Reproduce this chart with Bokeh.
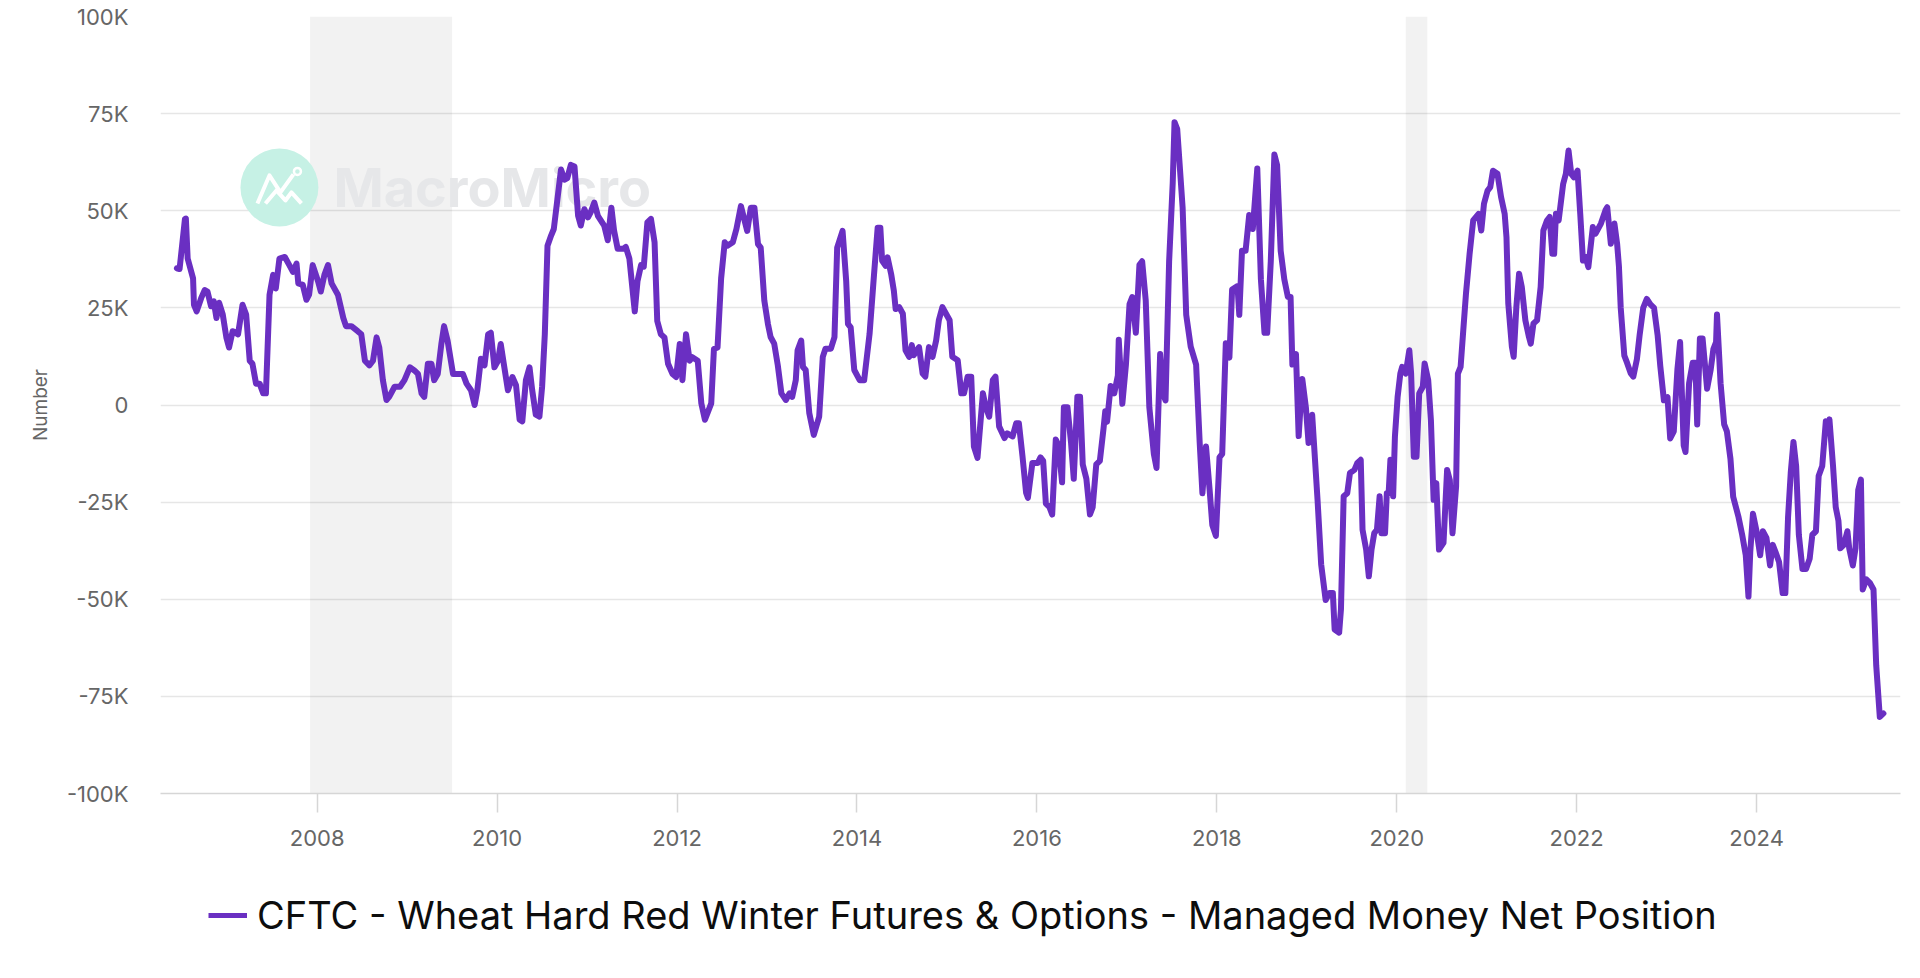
from bokeh.plotting import figure
from bokeh.layouts import column
from bokeh.models import (ColumnDataSource, Range1d, FixedTicker, BoxAnnotation,
                          Legend, LegendItem)
from bokeh.core.properties import value
from bokeh.embed import file_html
from bokeh.resources import INLINE

# ---------------- data (decimal year, thousands of contracts) ----------------
dates = [
 2006.44,2006.47,2006.53,2006.54,2006.56,2006.62,2006.63,2006.66,2006.71,2006.75,2006.78,2006.82,2006.85,2006.88,2006.91,2006.95,2006.99,
 2007.02,2007.06,2007.12,2007.17,2007.21,2007.25,2007.28,2007.32,2007.36,2007.40,2007.43,2007.47,2007.51,2007.54,2007.58,2007.64,2007.69,
 2007.73,2007.77,2007.79,2007.84,2007.88,2007.91,2007.95,2008.01,2008.04,2008.08,2008.12,2008.16,2008.23,2008.29,2008.32,2008.38,2008.45,
 2008.49,2008.53,2008.58,2008.62,2008.66,2008.69,2008.73,2008.77,2008.80,2008.86,2008.92,2008.97,2009.03,2009.08,2009.12,2009.16,2009.19,
 2009.23,2009.27,2009.30,2009.34,2009.38,2009.41,2009.45,2009.51,2009.56,2009.62,2009.66,2009.71,2009.75,2009.78,2009.82,2009.86,2009.90,
 2009.93,2009.97,2010.01,2010.04,2010.08,2010.12,2010.17,2010.21,2010.25,2010.28,2010.32,2010.36,2010.39,2010.43,2010.47,2010.50,2010.53,
 2010.56,2010.60,2010.63,2010.67,2010.71,2010.75,2010.78,2010.82,2010.86,2010.90,2010.93,2010.97,2011.01,2011.04,2011.08,2011.12,2011.19,
 2011.23,2011.27,2011.30,2011.34,2011.40,2011.43,2011.47,2011.53,2011.56,2011.60,2011.63,2011.67,2011.71,2011.75,2011.78,2011.82,2011.86,
 2011.90,2011.95,2011.99,2012.03,2012.06,2012.10,2012.14,2012.17,2012.23,2012.27,2012.31,2012.38,2012.41,2012.45,2012.49,2012.53,2012.56,
 2012.62,2012.66,2012.71,2012.78,2012.82,2012.86,2012.90,2012.93,2012.97,2013.01,2013.04,2013.08,2013.12,2013.16,2013.21,2013.25,2013.28,
 2013.32,2013.34,2013.38,2013.40,2013.43,2013.47,2013.52,2013.58,2013.62,2013.65,2013.71,2013.75,2013.78,2013.84,2013.88,2013.90,2013.93,
 2013.97,2014.03,2014.08,2014.14,2014.19,2014.23,2014.26,2014.28,2014.32,2014.34,2014.38,2014.41,2014.43,2014.47,2014.51,2014.54,2014.58,
 2014.61,2014.63,2014.69,2014.73,2014.76,2014.80,2014.84,2014.88,2014.91,2014.95,2014.99,2015.03,2015.06,2015.12,2015.16,2015.19,2015.23,
 2015.27,2015.30,2015.34,2015.40,2015.43,2015.47,2015.51,2015.54,2015.58,2015.64,2015.67,2015.73,2015.77,2015.80,2015.84,2015.88,2015.90,
 2015.95,2016.01,2016.04,2016.07,2016.10,2016.14,2016.17,2016.21,2016.24,2016.28,2016.30,2016.34,2016.38,2016.41,2016.45,2016.48,2016.51,
 2016.55,2016.59,2016.62,2016.66,2016.70,2016.74,2016.76,2016.78,2016.82,2016.86,2016.90,2016.91,2016.95,2016.99,2017.03,2017.06,2017.10,
 2017.14,2017.17,2017.21,2017.25,2017.30,2017.33,2017.37,2017.40,2017.43,2017.47,2017.51,2017.53,2017.56,2017.62,2017.66,2017.71,2017.77,
 2017.81,2017.84,2017.88,2017.92,2017.95,2017.99,2018.03,2018.06,2018.10,2018.14,2018.17,2018.23,2018.25,2018.28,2018.32,2018.36,2018.40,
 2018.45,2018.49,2018.53,2018.56,2018.60,2018.64,2018.67,2018.71,2018.75,2018.79,2018.82,2018.84,2018.88,2018.91,2018.95,2018.99,2019.02,
 2019.06,2019.12,2019.16,2019.21,2019.25,2019.29,2019.31,2019.36,2019.38,2019.41,2019.45,2019.48,2019.53,2019.56,2019.60,2019.62,2019.66,
 2019.69,2019.72,2019.75,2019.78,2019.81,2019.83,2019.87,2019.89,2019.91,2019.93,2019.96,2019.98,2020.01,2020.04,2020.06,2020.10,2020.14,
 2020.16,2020.19,2020.22,2020.25,2020.29,2020.31,2020.35,2020.38,2020.41,2020.44,2020.47,2020.52,2020.56,2020.59,2020.62,2020.66,2020.68,
 2020.71,2020.74,2020.77,2020.81,2020.85,2020.91,2020.94,2020.97,2021.01,2021.04,2021.07,2021.12,2021.16,2021.20,2021.22,2021.24,2021.28,
 2021.30,2021.33,2021.36,2021.39,2021.43,2021.47,2021.49,2021.52,2021.56,2021.60,2021.63,2021.67,2021.70,2021.73,2021.75,2021.77,2021.80,
 2021.85,2021.88,2021.91,2021.94,2021.97,2022.01,2022.04,2022.07,2022.10,2022.13,2022.18,2022.21,2022.27,2022.32,2022.34,2022.38,2022.42,
 2022.45,2022.47,2022.49,2022.53,2022.56,2022.60,2022.63,2022.67,2022.70,2022.74,2022.78,2022.82,2022.86,2022.90,2022.93,2022.97,2023.01,
 2023.04,2023.08,2023.12,2023.15,2023.19,2023.21,2023.25,2023.29,2023.32,2023.34,2023.37,2023.40,2023.45,2023.49,2023.52,2023.55,2023.56,
 2023.60,2023.64,2023.67,2023.71,2023.74,2023.80,2023.84,2023.88,2023.91,2023.93,2023.96,2024.00,2024.04,2024.07,2024.11,2024.15,2024.18,
 2024.21,2024.25,2024.29,2024.32,2024.35,2024.38,2024.41,2024.44,2024.47,2024.51,2024.55,2024.59,2024.62,2024.66,2024.69,2024.73,2024.77,
 2024.79,2024.81,2024.85,2024.88,2024.91,2024.93,2024.97,2025.01,2025.03,2025.07,2025.10,2025.13,2025.16,2025.18,2025.22,2025.26,2025.30,
 2025.33,2025.37,2025.41,
]

net_position = [
 35.2,35.0,47.9,48.0,37.7,32.6,25.8,24.1,27.5,29.6,29.2,25.4,26.7,22.4,26.3,23.3,17.4,
 14.8,19.0,18.2,25.8,23.3,11.4,10.6,5.5,5.5,3.0,3.0,28.4,33.5,30.0,37.7,38.1,36.0,
 34.3,36.4,31.3,30.9,27.1,28.4,36.0,31.8,29.2,33.5,36.0,31.3,28.4,22.4,20.3,20.3,19.0,
 18.2,11.4,10.2,11.4,17.4,14.8,6.4,1.3,2.1,4.7,4.7,6.4,9.7,8.9,8.0,3.0,2.1,
 10.6,10.6,6.4,8.0,15.7,20.3,16.5,8.0,8.0,8.0,5.5,3.8,0.0,3.8,11.9,10.2,18.2,
 18.6,9.7,11.4,15.7,9.7,3.8,7.2,5.1,-3.8,-4.2,6.4,9.7,3.8,-2.5,-3.0,4.7,18.2,
 41.0,43.6,45.3,52.9,60.6,58.0,58.4,61.8,61.4,48.7,46.2,50.4,48.3,49.6,52.1,48.7,46.2,
 42.4,50.8,44.9,40.2,40.2,40.7,37.7,24.1,31.8,36.0,35.6,47.0,47.9,41.9,21.6,18.2,17.4,
 10.6,8.0,7.2,15.7,6.4,18.2,11.4,12.3,11.4,0.4,-3.8,0.4,14.4,14.8,32.6,41.9,41.0,
 41.9,45.3,51.2,44.8,50.8,50.8,41.4,40.5,26.9,20.9,17.5,15.8,10.2,3.0,1.3,3.0,2.1,
 6.4,14.1,16.6,9.8,9.0,-2.1,-7.7,-3.0,12.4,14.5,14.5,17.5,40.5,44.8,32.0,20.9,20.0,
 9.0,6.4,6.4,18.3,33.7,45.6,45.6,37.1,35.8,38.0,33.7,29.4,24.7,25.2,23.5,14.1,12.4,
 15.4,12.8,14.9,8.1,7.3,14.9,12.4,16.6,21.8,25.2,23.5,21.8,12.4,11.5,3.0,3.0,7.3,
 7.3,-10.7,-13.6,3.0,-0.4,-3.0,6.4,7.3,-5.5,-8.5,-7.3,-8.1,-4.7,-4.7,-13.2,-22.6,-23.9,
 -14.9,-14.9,-13.5,-14.4,-25.4,-26.3,-28.2,-8.9,-10.3,-19.9,-0.6,-0.6,-9.8,-19.0,2.1,2.1,-15.3,
 -19.0,-28.2,-26.3,-15.3,-14.4,-6.2,-1.6,-4.3,4.9,3.0,7.6,16.8,0.3,10.4,26.0,27.8,18.6,
 36.1,37.0,26.9,-0.6,-12.6,-16.2,13.1,3.0,1.2,37.0,57.2,72.8,71.0,50.8,23.2,15.0,10.4,
 -9.8,-22.7,-10.7,-21.8,-30.9,-33.7,-13.5,-12.6,15.9,12.2,29.7,30.6,23.2,39.7,39.7,48.9,45.3,
 60.9,32.4,18.6,18.6,37.0,64.5,61.8,39.7,32.4,27.8,27.8,10.4,13.1,-8.0,6.7,-0.6,-9.8,
 -2.5,-24.5,-41.0,-50.2,-48.4,-48.4,-57.8,-58.6,-52.6,-23.5,-22.7,-17.5,-16.7,-15.0,-14.1,-32.1,-37.2,
 -44.1,-37.2,-33.0,-32.1,-23.5,-33.0,-33.0,-22.7,-22.7,-14.1,-23.5,-8.1,2.1,8.1,9.8,8.1,14.1,
 8.1,-13.3,-13.3,3.0,4.7,10.7,6.4,-3.9,-24.4,-20.1,-37.2,-35.5,-16.7,-19.3,-33.0,-21.0,8.1,
 9.8,19.3,28.7,38.9,47.5,49.2,44.9,51.8,55.2,56.1,60.3,59.5,53.5,49.2,43.2,26.1,15.0,
 12.4,25.3,33.8,30.4,21.8,17.5,15.8,21.0,21.8,30.4,44.9,47.5,48.4,38.9,38.9,49.2,47.5,
 56.9,59.5,65.5,59.5,58.6,60.3,49.2,37.2,38.1,35.5,45.8,44.1,46.7,50.1,50.9,41.5,46.7,
 41.5,35.7,25.0,12.7,10.9,8.2,7.3,11.8,18.0,25.0,27.3,25.9,25.0,18.0,10.0,1.2,2.0,
 -8.6,-6.8,9.1,16.2,-10.4,-12.1,5.6,10.9,10.9,-5.0,17.1,17.1,4.2,9.1,14.4,16.2,23.3,
 5.6,-5.0,-6.8,-13.9,-23.6,-28.9,-33.4,-38.7,-49.3,-37.8,-28.0,-32.5,-38.7,-32.5,-34.2,-41.3,-36.0,
 -37.8,-40.4,-48.4,-48.4,-28.9,-17.4,-9.5,-15.7,-33.4,-42.2,-42.2,-39.6,-33.4,-32.5,-18.3,-15.7,-4.2,
 -6.8,-3.7,-15.7,-26.3,-29.8,-36.9,-36.0,-32.5,-36.9,-41.3,-36.9,-21.9,-19.2,-47.5,-44.9,-45.8,-47.5,
 -67.0,-80.3,-79.4,
]

series_name = "CFTC - Wheat Hard Red Winter Futures & Options - Managed Money Net Position"

# recession periods (decimal years)
recession_starts = [2007.92, 2020.10]
recession_ends = [2009.50, 2020.34]

x_ticks = [2008, 2010, 2012, 2014, 2016, 2018, 2020, 2022, 2024]
x_tick_labels = ["2008", "2010", "2012", "2014", "2016", "2018", "2020", "2022", "2024"]
y_ticks = [-100, -75, -50, -25, 0, 25, 50, 75, 100]
y_tick_labels = ["-100K", "-75K", "-50K", "-25K", "0", "25K", "50K", "75K", "100K"]

# watermark position (data units)
wm_logo = (2007.58, 56.0)
wm_text = (2008.18, 56.0)

# ---------------- figure ----------------
FONT = "Inter"
LINE_COLOR = "#6a2fc2"

p = figure(frame_width=1740, frame_height=777, output_backend="svg",
           toolbar_location=None, x_range=Range1d(2006.258, 2025.60),
           y_range=Range1d(-100, 100), min_border_left=160, min_border_right=16,
           min_border_top=16, min_border_bottom=80)
p.outline_line_color = None
p.background_fill_color = "white"
p.border_fill_color = "white"

for s, e in zip(recession_starts, recession_ends):
    p.add_layout(BoxAnnotation(left=s, right=e, fill_color="black", fill_alpha=0.05,
                               line_color=None, level="underlay"))

# watermark
p.scatter(x=[wm_logo[0]], y=[wm_logo[1]], size=78, marker="circle",
          fill_color="#c6f1e5", line_color=None)
dx, dy = 1 / 89.96, 1 / 3.885
icon_x1 = [wm_logo[0] + v * dx for v in (-22, -10, 1, 14)]
icon_y1 = [wm_logo[1] - v * dy for v in (16, -12, 5, -13)]
p.line(icon_x1, icon_y1, line_color="white", line_width=4, line_join="round")
icon_x2 = [wm_logo[0] + v * dx for v in (-14, -3, 6, 12, 22)]
icon_y2 = [wm_logo[1] - v * dy for v in (16, 3, 13, 5, 16)]
p.line(icon_x2, icon_y2, line_color="white", line_width=4, line_join="round")
p.scatter(x=[wm_logo[0] + 18 * dx], y=[wm_logo[1] + 16 * dy], size=7, marker="circle",
          fill_color=None, line_color="white", line_width=2.5)
p.text(x=[wm_text[0]], y=[wm_text[1]], text=["MacroMicro"], text_font=value(FONT),
       text_font_size="54px", text_font_style="bold", text_color="#e6e7e9",
       text_baseline="middle", text_align="left")

src = ColumnDataSource(dict(x=dates, y=net_position))
r = p.line("x", "y", source=src, line_color=LINE_COLOR, line_width=6,
           line_join="round", line_cap="round")

# axes
xa = p.xaxis[0]
xa.ticker = FixedTicker(ticks=x_ticks)
xa.major_label_overrides = {t: l for t, l in zip(x_ticks, x_tick_labels)}
xa.minor_tick_line_color = None
xa.major_tick_out = 19
xa.major_tick_in = 0
xa.major_tick_line_color = "#d6d6d6"
xa.major_tick_line_width = 1.5
xa.axis_line_color = "#d6d6d6"
xa.axis_line_width = 1.5
xa.major_label_text_font = FONT
xa.major_label_text_font_size = "22px"
xa.major_label_text_color = "#666666"
xa.major_label_standoff = 17

ya = p.yaxis[0]
ya.ticker = FixedTicker(ticks=y_ticks)
ya.major_label_overrides = {t: l for t, l in zip(y_ticks, y_tick_labels)}
ya.minor_tick_line_color = None
ya.major_tick_line_color = None
ya.major_tick_out = 0
ya.major_tick_in = 0
ya.axis_line_color = None
ya.major_label_text_font = FONT
ya.major_label_text_font_size = "22px"
ya.major_label_text_color = "#666666"
ya.major_label_standoff = 32
ya.axis_label = "Number"
ya.axis_label_text_font = FONT
ya.axis_label_text_font_size = "19px"
ya.axis_label_text_font_style = "normal"
ya.axis_label_text_color = "#666666"
ya.axis_label_standoff = 12

p.xgrid.grid_line_color = None
p.ygrid.ticker = FixedTicker(ticks=y_ticks)
p.ygrid.grid_line_color = "#e6e6e6"
p.ygrid.grid_line_width = 1.5

# ---------------- legend strip (series drawn out of its range; only the key shows) ----------------
leg = figure(frame_width=1916, frame_height=100, output_backend="svg",
             toolbar_location=None, x_range=Range1d(0, 1), y_range=Range1d(0, 1),
             x_axis_type=None, y_axis_type=None, min_border=0)
leg.outline_line_color = None
leg.xgrid.visible = False
leg.ygrid.visible = False
leg_r = leg.line("x", "y", source=src, line_color=LINE_COLOR, line_width=5)
legend = Legend(items=[LegendItem(label=series_name, renderers=[leg_r])],
                location=(208, 35), orientation="horizontal",
                border_line_color=None, background_fill_alpha=0,
                label_text_font=FONT, label_text_font_size="38px",
                label_text_color="#0d0d0d", glyph_width=39, glyph_height=38,
                label_standoff=10, padding=4, margin=0, spacing=0)
leg.add_layout(legend, "center")

layout = column(p, leg, spacing=0)
open("out.html", "w").write(file_html(layout, INLINE))
